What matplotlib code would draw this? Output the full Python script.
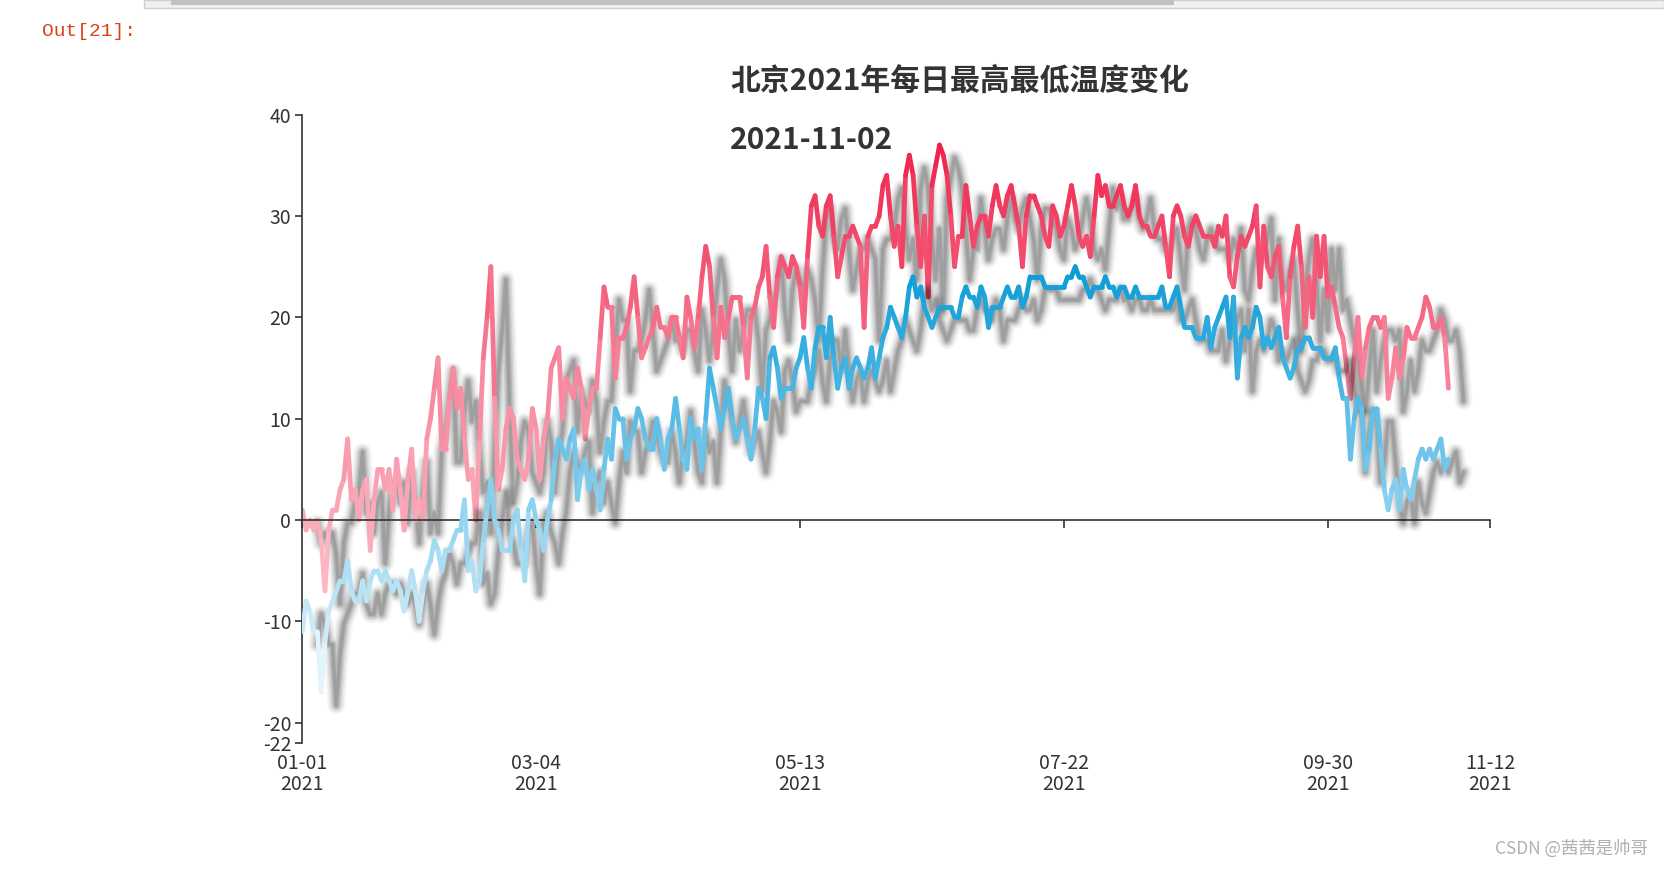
import numpy as np
import pandas as pd
import matplotlib
matplotlib.use('Agg')
import matplotlib.pyplot as plt
import matplotlib.dates as mdates
import matplotlib.transforms as mtransforms
from matplotlib.collections import LineCollection
from matplotlib.colors import LinearSegmentedColormap, Normalize
from matplotlib.patches import Rectangle

plt.rcParams['font.family'] = ['Noto Sans CJK SC', 'DejaVu Sans']

# data, one value per day from 2021-01-01
start_date = '2021-01-01'
end_date = '2021-11-12'
tick_dates = ['2021-01-01', '2021-03-04', '2021-05-13', '2021-07-22', '2021-09-30', '2021-11-12']
y_ticks = [-22, -20, -10, 0, 10, 20, 30, 40]

max_temp = [
    1, -1, 0, -1, 0, -2, -7, -1, 1, 1,
    3, 4, 8, 2, 3, 0, 3, 4, -3, 2,
    5, 5, 3, 5, 1, 6, 3, -1, 4, 7,
    0, 2, 0, 8, 10, 13, 16, 7, 7, 12,
    15, 11, 13, 8, 4, 5, 0, 8, 16, 20,
    25, 12, 3, 5, 9, 11, 10, 6, 5, 4,
    6, 11, 9, 4, 8, 10, 15, 16, 17, 10,
    14, 13, 12, 15, 13, 8, 11, 13, 13, 18,
    23, 21, 21, 14, 18, 18, 19, 21, 24, 20,
    16, 17, 18, 19, 21, 19, 19, 18, 20, 20,
    18, 16, 22, 20, 17, 20, 24, 27, 25, 20,
    16, 21, 18, 20, 22, 22, 22, 19, 14, 20,
    21, 23, 24, 27, 22, 19, 24, 26, 25, 24,
    26, 25, 23, 19, 26, 31, 32, 29, 28, 31,
    32, 28, 24, 26, 28, 28, 29, 28, 27, 19,
    28, 29, 29, 30, 33, 34, 30, 27, 29, 25,
    34, 36, 34, 29, 25, 30, 22, 33, 35, 37,
    36, 34, 30, 25, 28, 28, 33, 30, 27, 29,
    30, 30, 28, 31, 33, 31, 30, 32, 33, 31,
    29, 25, 30, 32, 32, 31, 30, 28, 27, 31,
    30, 28, 29, 31, 33, 31, 28, 27, 28, 26,
    30, 34, 32, 33, 31, 31, 32, 33, 31, 30,
    31, 33, 30, 29, 29, 28, 28, 29, 30, 27,
    24, 30, 31, 30, 28, 27, 29, 30, 29, 28,
    28, 28, 27, 29, 28, 30, 24, 23, 26, 28,
    27, 28, 29, 31, 23, 29, 25, 24, 26, 27,
    22, 18, 24, 27, 29, 25, 19, 24, 20, 28,
    24, 28, 22, 23, 21, 19, 18, 15, 12, 16,
    20, 14, 17, 19, 20, 20, 19, 20, 12, 14,
    17, 14, 16, 19, 18, 18, 19, 20, 22, 21,
    19, 19, 20, 18, 13,
]

min_temp = [
    -11, -8, -9, -11, -11, -17, -12, -9, -8, -7,
    -6, -6, -4, -7, -8, -8, -6, -8, -6, -5,
    -5, -6, -5, -6, -7, -6, -7, -9, -7, -5,
    -7, -10, -7, -5, -4, -2, -3, -5, -3, -3,
    -2, -1, -1, 2, -5, -4, -7, -6, -2, 1,
    4, 0, -1, -3, -3, -3, 0, 1, -3, -6,
    1, 2, 0, -1, -3, 0, 2, 6, 8, 7,
    6, 8, 9, 2, 5, 6, 3, 5, 3, 1,
    5, 8, 6, 11, 10, 10, 6, 8, 9, 11,
    10, 8, 7, 7, 10, 8, 5, 8, 9, 12,
    9, 6, 5, 10, 8, 9, 5, 10, 15, 13,
    11, 9, 11, 13, 10, 8, 9, 10, 8, 6,
    9, 13, 12, 10, 16, 17, 15, 12, 13, 13,
    13, 15, 16, 18, 15, 13, 17, 19, 19, 16,
    20, 16, 13, 15, 16, 13, 15, 16, 15, 14,
    15, 17, 14, 16, 18, 19, 21, 20, 19, 18,
    20, 23, 24, 22, 23, 21, 20, 19, 20, 21,
    21, 21, 21, 20, 20, 22, 23, 22, 22, 21,
    23, 22, 19, 21, 21, 21, 22, 23, 22, 22,
    23, 21, 22, 24, 24, 24, 24, 23, 23, 23,
    23, 23, 23, 24, 24, 25, 24, 24, 23, 22,
    23, 23, 23, 24, 23, 23, 22, 23, 23, 22,
    22, 23, 22, 22, 22, 22, 22, 22, 23, 21,
    21, 22, 23, 21, 19, 19, 19, 18, 18, 18,
    20, 17, 19, 20, 21, 22, 18, 22, 14, 18,
    19, 18, 19, 21, 20, 17, 18, 17, 18, 19,
    16, 15, 14, 15, 17, 17, 18, 18, 17, 17,
    17, 16, 16, 16, 17, 14, 12, 12, 6, 10,
    12, 11, 5, 7, 11, 11, 7, 3, 1, 3,
    4, 1, 5, 3, 2, 4, 6, 7, 6, 7,
    6, 7, 8, 5, 6,
]

dates = pd.date_range(start_date, periods=len(max_temp))
xs = mdates.date2num(dates)

fig = plt.figure(figsize=(16.64, 8.69), dpi=100)
ax = fig.add_axes([0.1817, 0.145, 0.7137, 0.7231])

shadow_tr = mtransforms.offset_copy(ax.transData, fig=fig, x=15, y=-13, units='dots')

red_cmap = LinearSegmentedColormap.from_list('red', ['#fdbcc7', '#f7849b', '#ee2049'])
blue_cmap = LinearSegmentedColormap.from_list('blue', ['#f2fafe', '#7ccbec', '#0a9bd6'])


def draw_series(vals, cmap, z):
    ys = np.array(vals, dtype=float)
    # soft gray shadow, faked blur with stacked widths
    for w, a in [(13, 0.035), (10.5, 0.045), (8.5, 0.06), (6.5, 0.08), (4.5, 0.1), (2.5, 0.12)]:
        ax.plot(xs, ys, color='black', lw=w, alpha=a, transform=shadow_tr,
                solid_joinstyle='round', solid_capstyle='round', zorder=z)
    pts = np.column_stack([xs, ys])
    segs = np.stack([pts[:-1], pts[1:]], axis=1)
    norm = Normalize(ys.min(), ys.max())
    cols = cmap(norm((ys[:-1] + ys[1:]) / 2))
    lc = LineCollection(segs, colors=cols, linewidths=3.4, capstyle='round',
                        joinstyle='round', zorder=z + 0.5)
    ax.add_collection(lc)


draw_series(max_temp, red_cmap, 2)
draw_series(min_temp, blue_cmap, 3)

ax.set_xlim(mdates.date2num(pd.Timestamp(start_date)), mdates.date2num(pd.Timestamp(end_date)))
ax.set_ylim(-22, 40)

for s in ['top', 'right']:
    ax.spines[s].set_visible(False)
ax.spines['bottom'].set_position(('data', 0))
for s in ['left', 'bottom']:
    ax.spines[s].set_color('#333333')
    ax.spines[s].set_linewidth(1.2)

tick_nums = [mdates.date2num(pd.Timestamp(d)) for d in tick_dates]
ax.set_xticks(tick_nums)
ax.tick_params(axis='x', direction='out', length=6, width=1.2, color='#333333', labelbottom=False)
ax.set_yticks(y_ticks)
ax.set_yticklabels([str(v) for v in y_ticks])
ax.tick_params(axis='y', direction='out', length=5, width=1.2, color='#333333',
               labelsize=14, labelcolor='#333333', pad=3)

for d, n in zip(tick_dates, tick_nums):
    ts = pd.Timestamp(d)
    ax.annotate(ts.strftime('%m-%d') + '\n' + ts.strftime('%Y'), xy=(n, 0),
                xycoords=('data', 'axes fraction'), xytext=(0, -7), textcoords='offset points',
                ha='center', va='top', fontsize=14, color='#333333', linespacing=1.0,
                annotation_clip=False)

fig.text(730 / 1664, 1 - 81 / 869, '北京2021年每日最高最低温度变化', fontsize=21.5,
         fontweight='bold', color='#333333', ha='left', va='center')
fig.text(730 / 1664, 1 - 140 / 869, '2021-11-02',
         fontsize=21.5, fontweight='bold', color='#333333', ha='left', va='center')

# notebook decorations
fig.add_artist(Rectangle((144 / 1664, 1 - 8 / 869), 1520 / 1664, 8 / 869, transform=fig.transFigure,
                         facecolor='#f0f0f0', edgecolor='#d0d0d0', lw=1))
fig.add_artist(Rectangle((171 / 1664, 1 - 4.5 / 869), 1003 / 1664, 4.5 / 869, transform=fig.transFigure,
                         facecolor='#c1c1c1', edgecolor='none'))
fig.text(42 / 1664, 1 - 32 / 869, 'Out[21]:', family='Liberation Mono', fontsize=14,
         color='#d84315', ha='left', va='center')
fig.text(1648 / 1664, 1 - 849 / 869, 'CSDN @茜茜是帅哥', fontsize=12.5, color='#b0b0b0',
         ha='right', va='center')

fig.savefig('out.png', dpi=100)
